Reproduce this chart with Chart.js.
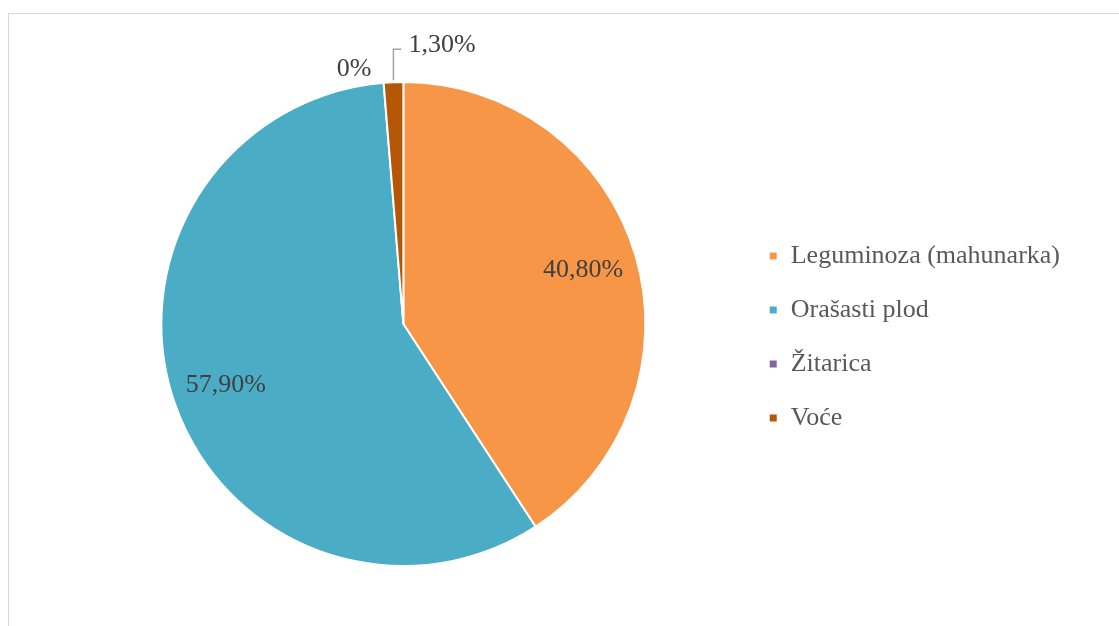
<!DOCTYPE html>
<html>
<head>
<meta charset="utf-8">
<script src="https://cdn.jsdelivr.net/npm/chart.js@4"></script>
<style>
  html, body { margin: 0; padding: 0; background: #fff; }
  #wrap { position: relative; width: 1119px; height: 626px; overflow: hidden; }
  #frame { position: absolute; left: 8px; top: 13px; width: 1200px; height: 700px; border: 1px solid #d9d9d9; }
  #pie_chart { position: absolute; left: 0; top: 0; }
</style>
</head>
<body>
<div id="wrap">
  <div id="frame"></div>
  <canvas id="pie_chart" width="1119" height="626"></canvas>
</div>
<script>
// data (percent)
const categories = ['Leguminoza (mahunarka)', 'Orašasti plod', 'Žitarica', 'Voće'];
const shares = [40.8, 57.9, 0, 1.3];
const sliceColors = ['#F79646', '#4BACC6', '#8064A2', '#B65708'];

function fmtPct(v) {
  if (v === 0) return '0%';
  return v.toFixed(2).replace('.', ',') + '%';
}

// draws the percent labels on/around the slices
const sliceLabels = {
  id: 'sliceLabels',
  afterDatasetsDraw(chart) {
    const ctx = chart.ctx;
    const meta = chart.getDatasetMeta(0);
    const total = shares.reduce((a, b) => a + b, 0);
    ctx.save();
    ctx.font = '26px "Liberation Serif", "Times New Roman", serif';
    ctx.fillStyle = '#404040';
    meta.data.forEach(function(arc, i) {
      const p = arc.getProps(['x', 'y', 'startAngle', 'endAngle', 'outerRadius'], true);
      const mid = (p.startAngle + p.endAngle) / 2;
      const v = shares[i];
      const txt = fmtPct(v);
      if (v / total > 0.05) {
        const r = p.outerRadius * 0.775;
        ctx.textAlign = 'center';
        ctx.textBaseline = 'middle';
        ctx.fillText(txt, p.x + Math.cos(mid) * r, p.y + Math.sin(mid) * r);
      } else if (v === 0) {
        const r = p.outerRadius + 14;
        ctx.textAlign = 'right';
        ctx.textBaseline = 'middle';
        ctx.fillText(txt, p.x + Math.cos(mid) * r - 11, p.y + Math.sin(mid) * r);
      } else {
        // leader line
        const r = p.outerRadius + 2;
        const x0 = p.x + Math.cos(mid) * r;
        const y0 = p.y + Math.sin(mid) * r;
        ctx.strokeStyle = '#a6a6a6';
        ctx.lineWidth = 1.5;
        ctx.beginPath();
        ctx.moveTo(x0, y0);
        ctx.lineTo(x0, y0 - 31);
        ctx.lineTo(x0 + 8, y0 - 31);
        ctx.stroke();
        ctx.textAlign = 'left';
        ctx.textBaseline = 'middle';
        ctx.fillText(txt, x0 + 15, y0 - 35);
      }
    });
    ctx.restore();
  }
};

function pieChart() {
  const ctx = document.getElementById('pie_chart');

  new Chart(ctx, {
    type: 'pie',
    data: {
      labels: categories,
      datasets: [{
        data: shares,
        backgroundColor: sliceColors,
        borderColor: '#ffffff',
        borderWidth: 2
      }]
    },
    options: {
      responsive: false,
      devicePixelRatio: 1,
      animation: false,
      layout: {
        padding: { top: 81, bottom: 59, left: 66, right: 49 }
      },
      plugins: {
        tooltip: { enabled: false },
        legend: {
          position: 'right',
          title: { display: true, text: '', font: { size: 10 }, padding: 7 },
          labels: {
            boxWidth: 9,
            boxHeight: 9,
            padding: 28,
            color: '#595959',
            font: { family: '"Liberation Serif", "Times New Roman", serif', size: 26 }
          }
        }
      }
    },
    plugins: [sliceLabels]
  });
}

pieChart();
</script>
</body>
</html>
